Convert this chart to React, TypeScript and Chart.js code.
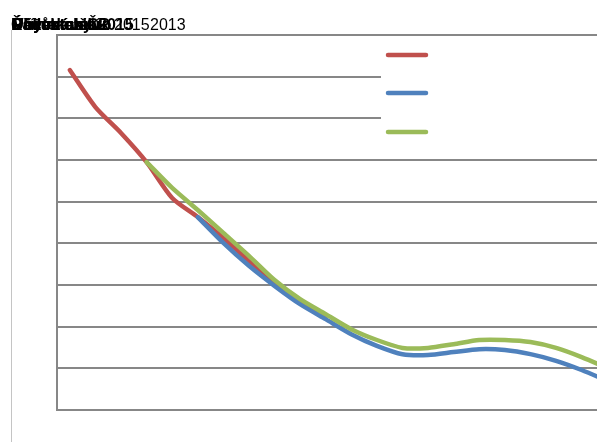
import React, { useEffect, useRef } from "react";
import { Chart, registerables } from "chart.js";

Chart.register(...registerables);

const categories: string[] = [
  "1", "2", "3", "4", "5", "6", "7", "8", "9", "10", "11",
  "12", "13", "14", "15", "16", "17", "18", "19", "20", "21", "22",
];

const seriesNames: string[] = ["", "", ""];

const redValues: (number | null)[] = [
  8.16, 7.27, 6.65, 5.95, 5.09, 4.63, 4.13, 3.58, 3.05, 2.6, 2.24,
  null, null, null, null, null, null, null, null, null, null, null,
];

const blueValues: (number | null)[] = [
  null, null, null, null, null, 4.63, 4.01, 3.46, 2.98, 2.54, 2.18,
  1.82, 1.54, 1.34, 1.32, 1.39, 1.46, 1.44, 1.34, 1.18, 0.96, 0.7,
];

const greenValues: (number | null)[] = [
  null, null, null, 5.95, 5.33, 4.8, 4.25, 3.7, 3.12, 2.66, 2.3,
  1.94, 1.68, 1.49, 1.49, 1.58, 1.68, 1.68, 1.63, 1.49, 1.27, 1.01,
];

const titleTexts: string[] = ["Obyvatelstvo", "Počet úmrtí", "Přírůstek ČR", "Řádek obyv", "Úbytek věku", "Věková sk"];
const titleYearA = "2015";
const titleYearB = "2013";

const RED = "#C0504D";
const BLUE = "#4F81BD";
const GREEN = "#9BBB59";
const GRID = "#878787";

const legendPlugin = {
  id: "sideLegend",
  afterDatasetsDraw(chart: any) {
    const ctx = chart.ctx;
    ctx.save();
    ctx.fillStyle = "#ffffff";
    ctx.fillRect(381, 38, chart.width - 381, 112);
    const ys = [55, 93, 132];
    chart.data.datasets.forEach((ds: any, i: number) => {
      ctx.beginPath();
      ctx.strokeStyle = ds.borderColor;
      ctx.lineWidth = 4.5;
      ctx.lineCap = "round";
      ctx.moveTo(388, ys[i]);
      ctx.lineTo(426, ys[i]);
      ctx.stroke();
    });
    ctx.restore();
  },
};

export default function App() {
  const canvasRef = useRef<HTMLCanvasElement | null>(null);

  useEffect(() => {
    if (!canvasRef.current) return;
    const mk = (label: string, data: (number | null)[], color: string, order: number) => ({
      label,
      data,
      borderColor: color,
      backgroundColor: color,
      borderWidth: 4.5,
      pointRadius: 0,
      tension: 0.25,
      borderCapStyle: "round" as const,
      borderJoinStyle: "round" as const,
      fill: false,
      order,
      spanGaps: false,
    });
    const chart = new Chart(canvasRef.current, {
      type: "line",
      data: {
        labels: categories,
        datasets: [
          mk(seriesNames[0], redValues, RED, 3),
          mk(seriesNames[1], blueValues, BLUE, 2),
          mk(seriesNames[2], greenValues, GREEN, 1),
        ],
      },
      options: {
        animation: false,
        responsive: false,
        maintainAspectRatio: false,
        devicePixelRatio: 1,
        layout: { padding: { left: 57, top: 35, bottom: 32, right: 20 } },
        plugins: { legend: { display: false }, tooltip: { enabled: false }, title: { display: false } },
        scales: {
          x: {
            offset: true,
            ticks: { display: false },
            grid: { display: false, drawTicks: false },
            border: { display: true, color: GRID, width: 2 },
          },
          y: {
            min: 0,
            max: 9,
            ticks: { display: false, stepSize: 1 },
            grid: { color: GRID, lineWidth: 2, drawTicks: false },
            border: { display: true, color: GRID, width: 2 },
          },
        },
      },
      plugins: [legendPlugin],
    });
    return () => chart.destroy();
  }, []);

  const textStyle: React.CSSProperties = {
    position: "absolute",
    top: 16,
    fontFamily: "'Liberation Sans', Arial, sans-serif",
    fontSize: 16,
    lineHeight: "18px",
    color: "#000",
    whiteSpace: "nowrap",
  };

  return (
    <div
      style={{
        position: "fixed",
        left: 0,
        top: 0,
        width: 597,
        height: 442,
        overflow: "hidden",
        background: "#fff",
      }}
    >
      <canvas ref={canvasRef} width={640} height={442} style={{ position: "absolute", left: 0, top: 0 }} />
      <div style={{ position: "absolute", left: 11, top: 30, width: 1, height: 412, background: "#c4c4c4" }} />
      {titleTexts.map((t, i) => (
        <div key={i} style={{ ...textStyle, left: 11 + (i % 3), fontWeight: "bold" }}>
          {t}
        </div>
      ))}
      <div style={{ ...textStyle, left: 98, fontWeight: "bold" }}>{titleYearA}</div>
      <div style={{ ...textStyle, left: 114 }}>{titleYearA}</div>
      <div style={{ ...textStyle, left: 150 }}>{titleYearB}</div>
    </div>
  );
}
